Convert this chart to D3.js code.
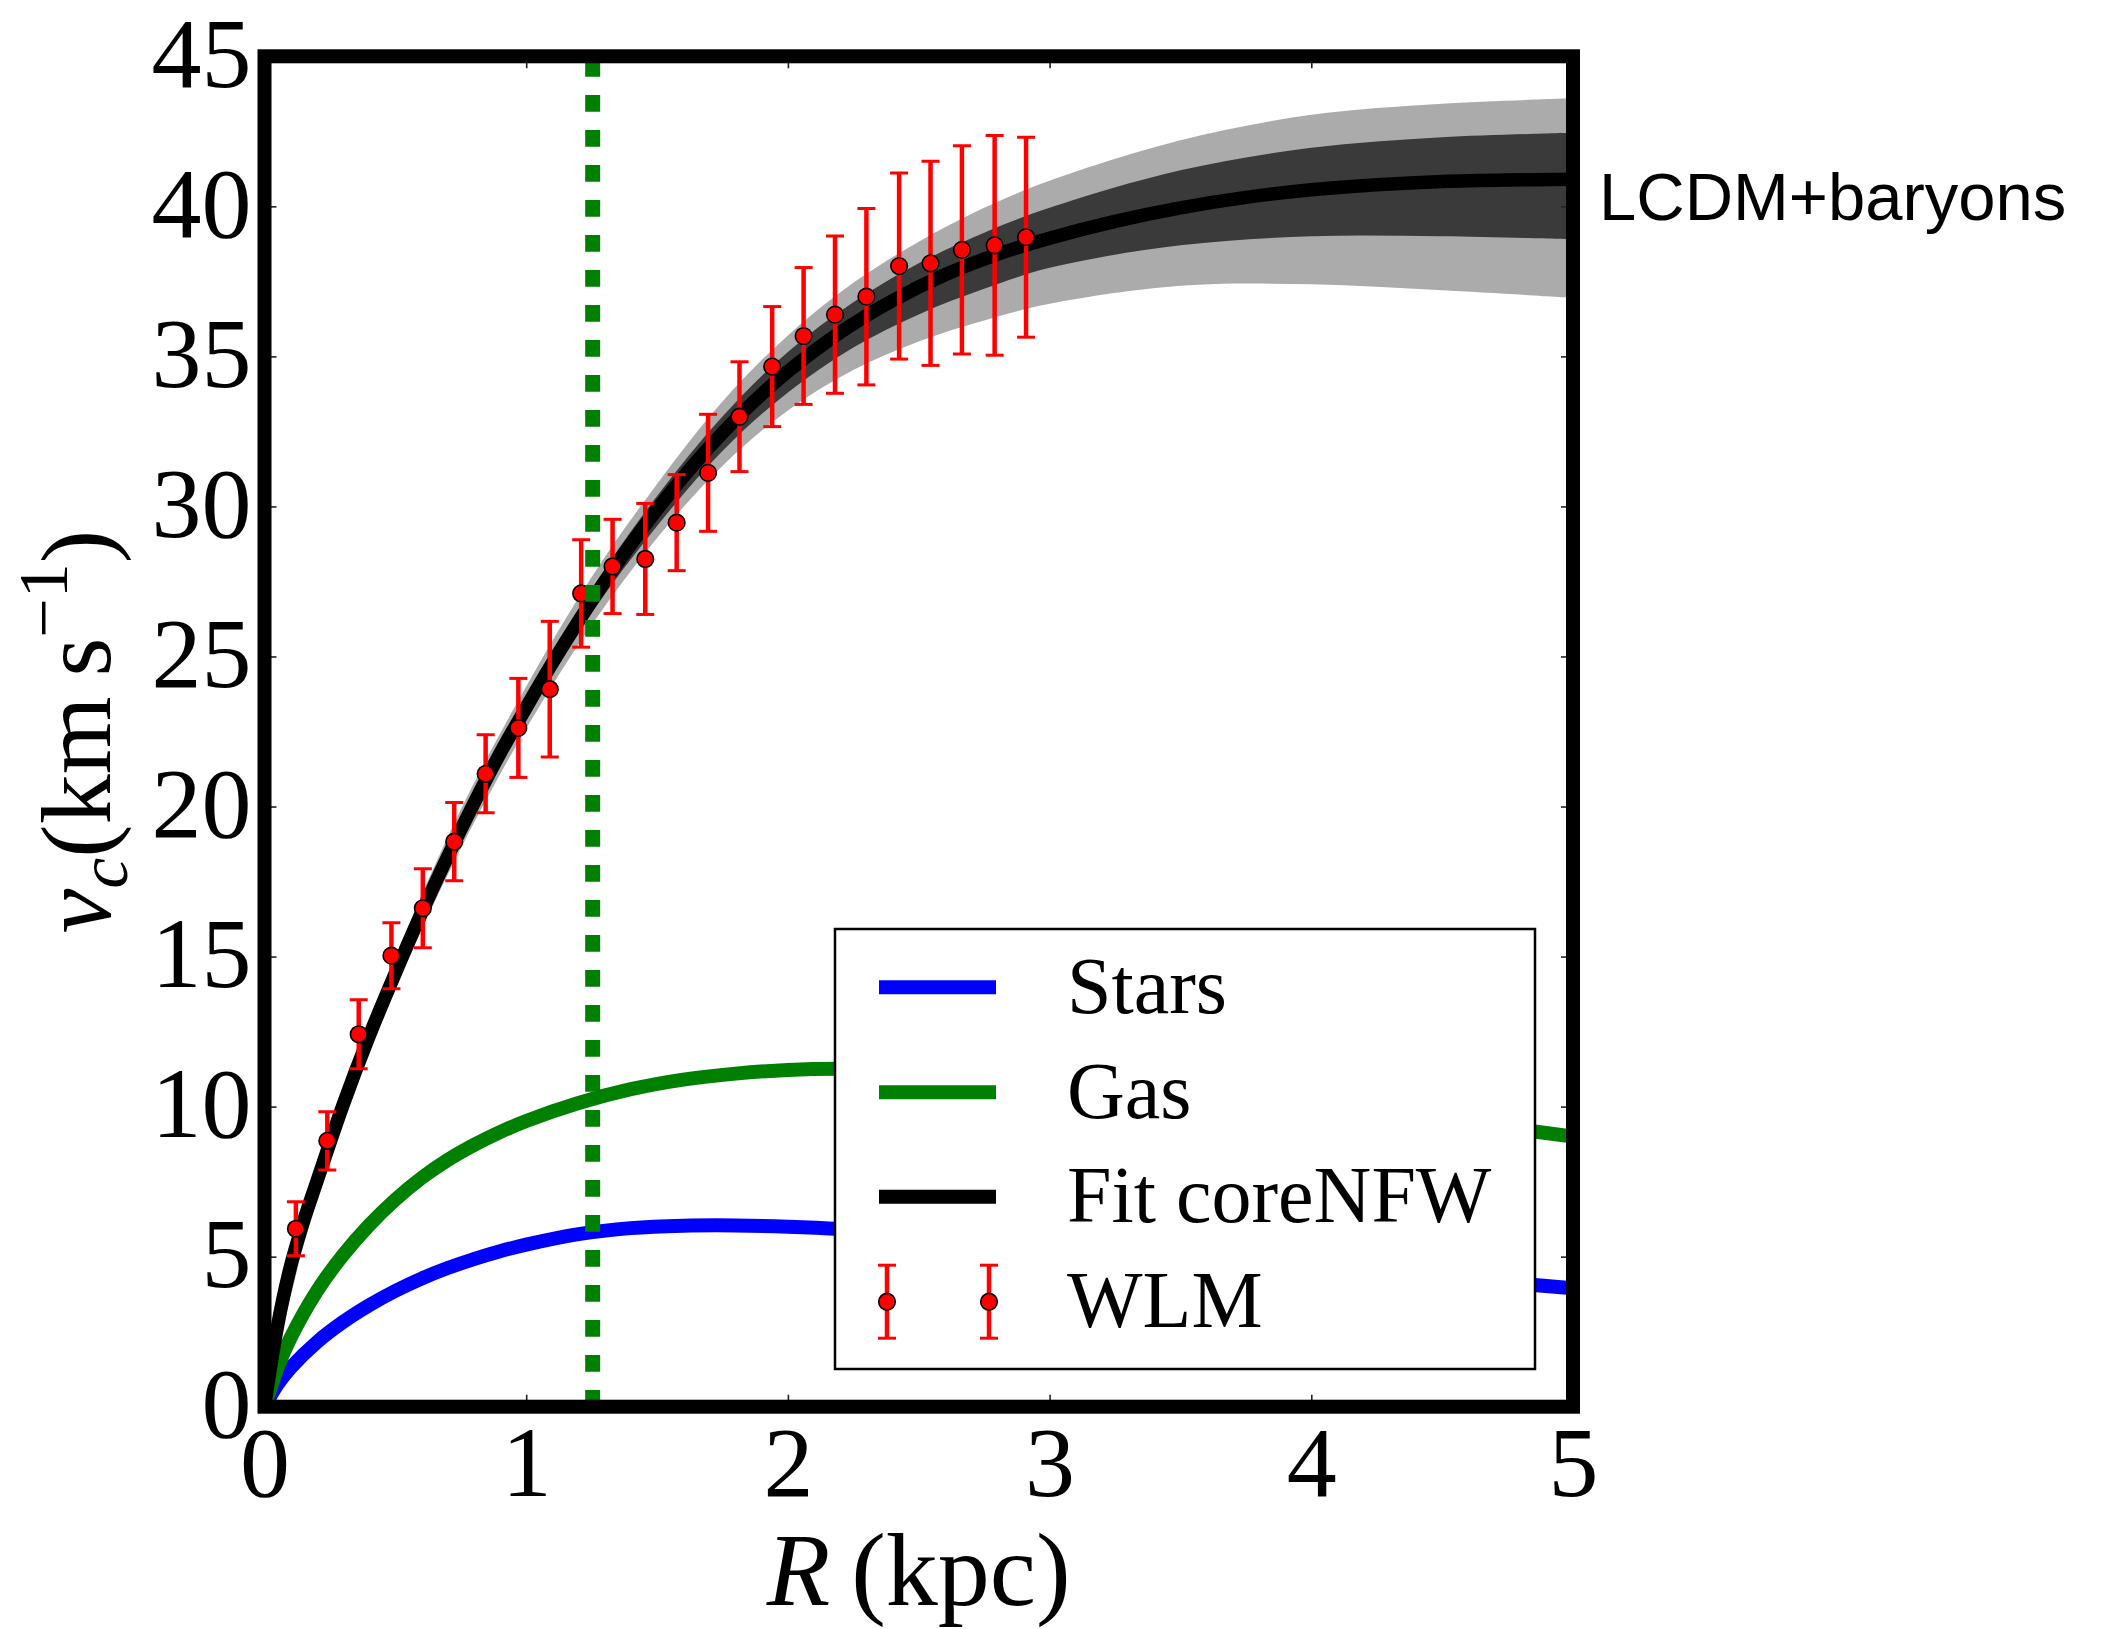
<!DOCTYPE html>
<html>
<head>
<meta charset="utf-8">
<script src="https://cdn.jsdelivr.net/npm/d3@7"></script>
<style>
  html, body { margin: 0; padding: 0; background: #ffffff; }
  svg { display: block; }
</style>
</head>
<body>
<script>
// WLM rotation curve: measured points with errors
const R_DATA = [0.12, 0.24, 0.36, 0.485, 0.605, 0.725, 0.845, 0.97, 1.09, 1.21, 1.33, 1.455,
                1.575, 1.695, 1.815, 1.94, 2.06, 2.18, 2.30, 2.425, 2.545, 2.665, 2.79, 2.91];
const V_DATA = [5.93, 8.86, 12.41, 15.03, 16.61, 18.83, 21.09, 22.62, 23.91, 27.10, 28.0, 28.25,
                29.46, 31.12, 32.99, 34.66, 35.68, 36.39, 36.99, 38.01, 38.1, 38.55, 38.70, 38.97];
const V_ERR  = [0.9, 0.97, 1.15, 1.1, 1.32, 1.3, 1.3, 1.65, 2.26, 1.79, 1.57, 1.85,
                1.6, 1.95, 1.83, 2.0, 2.28, 2.62, 2.94, 3.1, 3.4, 3.47, 3.66, 3.33];

// coreNFW fit (median curve)
const FIT_R = [0, 0.05, 0.1, 0.15, 0.2, 0.3, 0.4, 0.5, 0.6, 0.7, 0.8, 0.9, 1.0, 1.1, 1.2, 1.3, 1.4,
               1.5, 1.6, 1.7, 1.8, 1.9, 2.0, 2.2, 2.4, 2.6, 2.8, 3.0, 3.25, 3.5, 3.75, 4.0, 4.25,
               4.5, 4.75, 5.0];
const FIT_V = [0, 2.7, 4.7, 6.2, 7.5, 10.05, 12.35, 14.45, 16.45, 18.33, 20.1, 21.77, 23.3, 24.78,
               26.18, 27.5, 28.74, 29.9, 30.98, 31.98, 32.9, 33.74, 34.5, 35.8, 36.86, 37.72, 38.4,
               38.94, 39.5, 39.95, 40.3, 40.55, 40.72, 40.83, 40.88, 40.9];

// confidence bands of the fit
const BAND_R   = [0, 0.25, 0.5, 0.75, 1.0, 1.25, 1.5, 1.75, 2.0, 2.25, 2.5, 2.75, 3.0, 3.5, 4.0, 4.5, 5.0];
const LIGHT_HI = [0, 9.1, 14.95, 19.9, 24.0, 27.65, 30.75, 33.5, 35.7, 37.45, 38.82, 39.95, 40.85, 42.2, 43.05, 43.42, 43.6];
const LIGHT_LO = [0, 8.5, 13.95, 18.6, 22.6, 26.05, 28.95, 31.35, 33.2, 34.55, 35.5, 36.2, 36.75, 37.35, 37.4, 37.2, 36.95];
const DARK_HI  = [0, 8.9, 14.65, 19.55, 23.65, 27.25, 30.35, 33.0, 35.15, 36.8, 38.1, 39.12, 39.95, 41.2, 41.95, 42.3, 42.45];
const DARK_LO  = [0, 8.7, 14.25, 18.95, 22.95, 26.45, 29.35, 31.85, 33.8, 35.3, 36.4, 37.25, 37.95, 38.7, 39.0, 39.0, 38.9];

// baryonic contributions
const BARY_R  = [0, 0.05, 0.1, 0.2, 0.3, 0.4, 0.5, 0.6, 0.7, 0.8, 0.9, 1.0, 1.2, 1.4, 1.6, 1.8,
                 2.0, 2.2, 2.5, 3.0, 3.5, 4.0, 4.5, 5.0];
const STARS_V = [0, 0.75, 1.3, 2.15, 2.82, 3.38, 3.86, 4.27, 4.62, 4.92, 5.18, 5.4, 5.75, 5.95,
                 6.03, 6.04, 6.0, 5.92, 5.72, 5.38, 5.02, 4.67, 4.31, 3.95];
const GAS_V   = [0, 1.3, 2.3, 3.85, 5.05, 6.05, 6.9, 7.62, 8.22, 8.72, 9.15, 9.52, 10.12, 10.58,
                 10.9, 11.1, 11.22, 11.26, 11.22, 11.0, 10.6, 10.1, 9.57, 9.0];

// half-light radius marker
const R_HALF = 1.254;

const X_TICKS = [0, 1, 2, 3, 4, 5];
const Y_TICKS = [0, 5, 10, 15, 20, 25, 30, 35, 40, 45];
const LEGEND_ITEMS = ["Stars", "Gas", "Fit coreNFW", "WLM"];

const W = 2102, H = 1629;
const x = d3.scaleLinear().domain([0, 5]).range([264.5, 1573]);
const y = d3.scaleLinear().domain([0, 45]).range([1406.7, 56.3]);
const smooth = d3.curveCatmullRom.alpha(0.5);

const svg = d3.select("body").append("svg").attr("width", W).attr("height", H);
svg.append("rect").attr("width", W).attr("height", H).attr("fill", "#ffffff");

svg.append("defs").append("clipPath").attr("id", "plotclip")
  .append("rect")
  .attr("x", x(0)).attr("y", y(45))
  .attr("width", x(5) - x(0)).attr("height", y(0) - y(45));

const plot = svg.append("g").attr("clip-path", "url(#plotclip)");

// bands
const area = (lo, hi) => d3.area()
  .x((d, i) => x(BAND_R[i]))
  .y0((d, i) => y(lo[i]))
  .y1((d, i) => y(hi[i]))
  .curve(smooth)(BAND_R);
plot.append("path").attr("d", area(LIGHT_LO, LIGHT_HI)).attr("fill", "#ababab");
plot.append("path").attr("d", area(DARK_LO, DARK_HI)).attr("fill", "#3a3a3a");

const lineOf = (rs, vs) => d3.line()
  .x((d, i) => x(rs[i]))
  .y((d, i) => y(vs[i]))
  .curve(smooth)(rs);

plot.append("path").attr("d", lineOf(BARY_R, STARS_V))
  .attr("fill", "none").attr("stroke", "#0000ff").attr("stroke-width", 14);
plot.append("path").attr("d", lineOf(BARY_R, GAS_V))
  .attr("fill", "none").attr("stroke", "#008000").attr("stroke-width", 14);
plot.append("path").attr("d", lineOf(FIT_R, FIT_V))
  .attr("fill", "none").attr("stroke", "#000000").attr("stroke-width", 13.5);

// data points with error bars
const pts = R_DATA.map((r, i) => ({ r, v: V_DATA[i], e: V_ERR[i] }));
const eb = plot.append("g");
eb.selectAll("line.bar").data(pts).join("line")
  .attr("x1", d => x(d.r)).attr("x2", d => x(d.r))
  .attr("y1", d => y(d.v - d.e)).attr("y2", d => y(d.v + d.e))
  .attr("stroke", "#ff0000").attr("stroke-width", 4.5);
eb.selectAll("line.capt").data(pts).join("line")
  .attr("x1", d => x(d.r) - 9).attr("x2", d => x(d.r) + 9)
  .attr("y1", d => y(d.v + d.e)).attr("y2", d => y(d.v + d.e))
  .attr("stroke", "#ff0000").attr("stroke-width", 3);
eb.selectAll("line.capb").data(pts).join("line")
  .attr("x1", d => x(d.r) - 9).attr("x2", d => x(d.r) + 9)
  .attr("y1", d => y(d.v - d.e)).attr("y2", d => y(d.v - d.e))
  .attr("stroke", "#ff0000").attr("stroke-width", 3);
eb.selectAll("circle").data(pts).join("circle")
  .attr("cx", d => x(d.r)).attr("cy", d => y(d.v)).attr("r", 8.3)
  .attr("fill", "#ff0000").attr("stroke", "#000000").attr("stroke-width", 1.6);

// half-light radius
plot.append("line")
  .attr("x1", x(R_HALF)).attr("x2", x(R_HALF))
  .attr("y1", y(0)).attr("y2", y(45))
  .attr("stroke", "#008000").attr("stroke-width", 15)
  .attr("stroke-dasharray", "16.7,18.3");

// axes (ticks inward on all sides)
const tickFont = "'Liberation Serif', 'Times New Roman', serif";
function styleAxis(g) {
  g.select(".domain").remove();
  g.selectAll(".tick line").attr("stroke", "#222").attr("stroke-width", 1.6);
  g.selectAll(".tick text").attr("fill", "#000").style("font-family", tickFont).style("font-size", "100px");
}
svg.append("g").attr("transform", `translate(0,${y(0)})`)
  .call(d3.axisBottom(x).tickValues(X_TICKS).tickFormat(d3.format("d")).tickSizeInner(-12).tickSizeOuter(0).tickPadding(18.5))
  .call(styleAxis);
svg.append("g").attr("transform", `translate(0,${y(45)})`)
  .call(d3.axisTop(x).tickValues(X_TICKS).tickFormat("").tickSizeInner(-12).tickSizeOuter(0))
  .call(styleAxis);
const yl = svg.append("g").attr("transform", `translate(${x(0)},0)`)
  .call(d3.axisLeft(y).tickValues(Y_TICKS).tickFormat(d3.format("d")).tickSizeInner(-12).tickSizeOuter(0).tickPadding(13))
  .call(styleAxis);
yl.selectAll(".tick text").attr("dy", "0.30em");
svg.append("g").attr("transform", `translate(${x(5)},0)`)
  .call(d3.axisRight(y).tickValues(Y_TICKS).tickFormat("").tickSizeInner(-12).tickSizeOuter(0))
  .call(styleAxis);

// frame
svg.append("rect")
  .attr("x", x(0)).attr("y", y(45))
  .attr("width", x(5) - x(0)).attr("height", y(0) - y(45))
  .attr("fill", "none").attr("stroke", "#000").attr("stroke-width", 14);

// axis titles
const xt = svg.append("text")
  .attr("x", (x(0) + x(5)) / 2).attr("y", 1605)
  .attr("text-anchor", "middle")
  .style("font-family", tickFont).style("font-size", "104px");
xt.append("tspan").style("font-style", "italic").text("R");
xt.append("tspan").text("\u2009(kpc)");

const yt = svg.append("text")
  .attr("transform", `translate(110,${(y(0) + y(45)) / 2}) rotate(-90)`)
  .attr("text-anchor", "middle")
  .style("font-family", tickFont).style("font-size", "100px");
yt.append("tspan").style("font-style", "italic").text("v");
yt.append("tspan").style("font-style", "italic").style("font-size", "70px").attr("dy", 17).text("c");
yt.append("tspan").attr("dy", -17).text("(km\u2009s");
yt.append("tspan").style("font-size", "70px").attr("dy", -43).text("\u22121");
yt.append("tspan").attr("dy", 43).text(")");

// model label
svg.append("text")
  .attr("x", 1599).attr("y", 220)
  .style("font-family", "'Liberation Sans', Arial, Helvetica, sans-serif")
  .style("font-size", "67px").attr("fill", "#000")
  .text("LCDM+baryons");

// legend
const lg = svg.append("g");
lg.append("rect").attr("x", 835).attr("y", 929).attr("width", 700).attr("height", 440)
  .attr("fill", "#fff").attr("stroke", "#000").attr("stroke-width", 2.5);
const rowY = [987.3, 1092.3, 1196.7, 1301.7];
const legendColors = ["#0000ff", "#008000", "#000000"];
legendColors.forEach((c, i) => {
  lg.append("line").attr("x1", 879).attr("x2", 996).attr("y1", rowY[i]).attr("y2", rowY[i])
    .attr("stroke", c).attr("stroke-width", 14);
});
[887, 989].forEach(cx => {
  const cy = rowY[3];
  lg.append("line").attr("x1", cx).attr("x2", cx).attr("y1", cy - 36.5).attr("y2", cy + 36.5)
    .attr("stroke", "#ff0000").attr("stroke-width", 4.5);
  [cy - 36.5, cy + 36.5].forEach(yy => lg.append("line")
    .attr("x1", cx - 9).attr("x2", cx + 9).attr("y1", yy).attr("y2", yy)
    .attr("stroke", "#ff0000").attr("stroke-width", 3));
  lg.append("circle").attr("cx", cx).attr("cy", cy).attr("r", 8.3)
    .attr("fill", "#ff0000").attr("stroke", "#000").attr("stroke-width", 1.6);
});
const textBase = [1013, 1118, 1222, 1327];
LEGEND_ITEMS.forEach((t, i) => {
  lg.append("text").attr("x", 1067).attr("y", textBase[i])
    .style("font-family", tickFont).style("font-size", "80px").attr("fill", "#000")
    .text(t);
});
</script>
</body>
</html>
